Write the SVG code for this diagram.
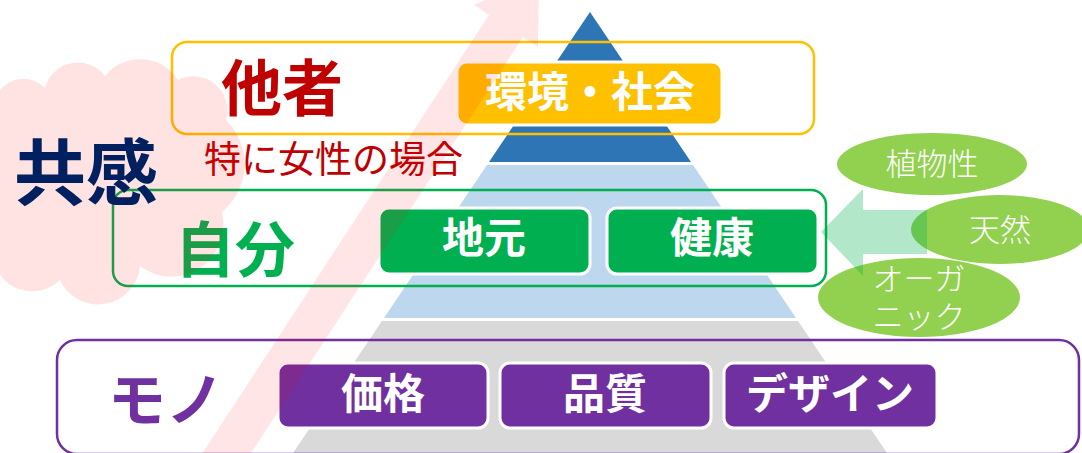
<svg xmlns="http://www.w3.org/2000/svg" width="1082" height="453" viewBox="0 0 1082 453">
<style>
.jp{font-family:"Noto Sans CJK JP","Noto Sans",sans-serif}
.b{font-weight:700}
.wt{fill:#fff;text-anchor:middle}
.outline{fill:none;stroke-width:2.5}
.gbox{fill:#00B050;stroke:#fff;stroke-width:3}
.pbox{fill:#7030A0;stroke:#fff;stroke-width:3}
.ell{fill:#92D050}
.et{fill:#fff;text-anchor:middle;font-size:31px;font-weight:300}
</style>
<rect width="1082" height="453" fill="#fff"/>
<g id="pyramid">
<polygon points="590,12 489,162 691,162" fill="#2E75B6"/>
<polygon points="487,165 693,165 796,318 384,318" fill="#BDD7EE"/>
<polygon points="382,321 798,321 887,453 293,453" fill="#D9D9D9"/>
</g>
<g id="node-kankyo">
<rect x="457" y="62" width="265" height="63" rx="10" fill="#FFC000" stroke="#fff" stroke-width="3"/>
<text class="jp b wt" x="590" y="107" font-size="42">環境・社会</text>
</g>
<g id="node-jimoto">
<rect class="gbox" x="379" y="208" width="211" height="66" rx="10"/>
<text class="jp b wt" x="484" y="253" font-size="42">地元</text>
</g>
<g id="node-kenko">
<rect class="gbox" x="607" y="208" width="211" height="66" rx="10"/>
<text class="jp b wt" x="712" y="253" font-size="42">健康</text>
</g>
<g id="node-kakaku">
<rect class="pbox" x="278" y="363" width="210" height="65" rx="10"/>
<text class="jp b wt" x="383" y="409" font-size="42">価格</text>
</g>
<g id="node-hinshitsu">
<rect class="pbox" x="500" y="363" width="211" height="65" rx="10"/>
<text class="jp b wt" x="605" y="409" font-size="42">品質</text>
</g>
<g id="node-design">
<rect class="pbox" x="724" y="363" width="213" height="65" rx="10"/>
<text class="jp b wt" x="830" y="409" font-size="42">デザイン</text>
</g>
<g id="group-tasha">
<rect class="outline" x="172" y="42" width="642" height="92" rx="15" stroke="#FFC000"/>
<text class="jp b" x="282" y="111" font-size="61" fill="#C00000" text-anchor="middle">他者</text>
<text class="jp" x="204" y="173" font-size="37" fill="#C00000">特に女性の場合</text>
</g>
<g id="group-jibun">
<rect class="outline" x="113" y="190" width="713" height="96" rx="15" stroke="#00B050"/>
<text class="jp b" x="235" y="272" font-size="60" fill="#00B050" text-anchor="middle">自分</text>
</g>
<g id="group-mono">
<rect class="outline" x="57" y="340" width="1022" height="114" rx="20" stroke="#7030A0"/>
<text class="jp b" x="166" y="421" font-size="58" fill="#7030A0" text-anchor="middle">モノ</text>
</g>
<g id="node-shokubutsu">
<ellipse class="ell" cx="932" cy="164" rx="95" ry="31"/>
<text class="jp et" x="932" y="175">植物性</text>
</g>
<g id="node-tennen">
<ellipse class="ell" cx="1000" cy="229.5" rx="89" ry="34.5"/>
<text class="jp et" x="1000" y="241">天然</text>
</g>
<g id="node-organic">
<ellipse class="ell" cx="919" cy="297.5" rx="101" ry="39.5"/>
<text class="jp et" x="919" y="290" font-size="29"><tspan x="919" y="290">オーガ</tspan><tspan x="919" y="328">ニック</tspan></text>
</g>
<g id="connectors">
<polygon points="821,232 863,189 863,210 927,210 927,254 863,254 863,276" fill="#00B050" fill-opacity="0.3"/>
<polygon points="166,509 489,15 474,5 539,-24 538,47 523,37 200,531" fill="#FF0000" fill-opacity="0.1"/>
</g>
<g id="node-kyokan">
<path d="M0,90 A30 30 0 0 1 45,88 A34 34 0 0 1 105,76 A45 45 0 0 1 178,80 A34 34 0 0 1 226,120 A62 62 0 0 1 222,212 A52 52 0 0 1 140,266 A42 42 0 0 1 60,280 A40 40 0 0 1 0,275 Z" fill="#FF0000" fill-opacity="0.11"/>
<text class="jp b" x="86" y="199" font-size="72" fill="#002060" text-anchor="middle">共感</text>
</g>
</svg>
